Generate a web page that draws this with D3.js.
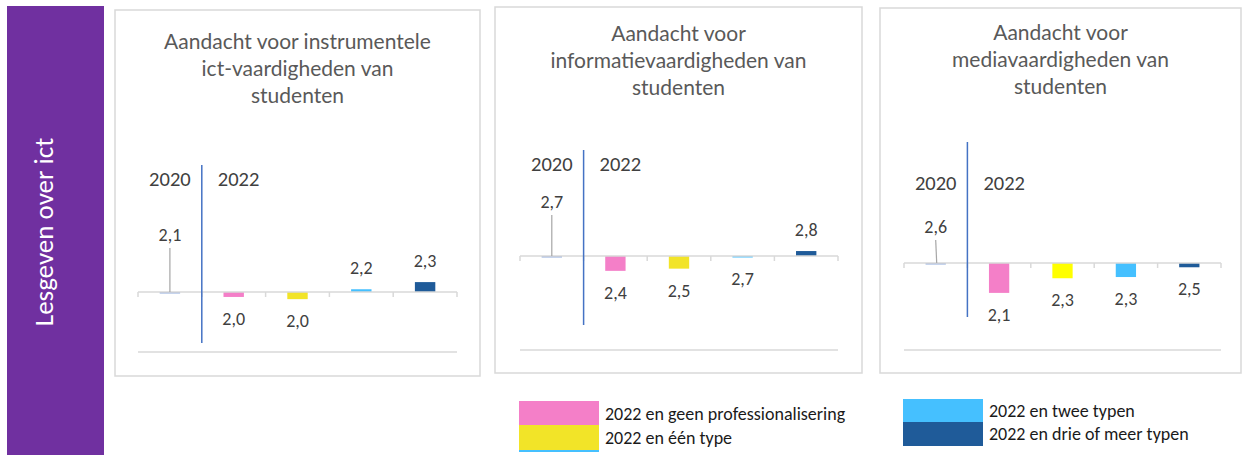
<!DOCTYPE html>
<html lang="nl">
<head>
<meta charset="UTF-8">
<title>Lesgeven over ict</title>
<script src="https://d3js.org/d3.v7.min.js"></script>
<style>
  body { margin: 0; background: #fff; }
  svg { display: block; }
</style>
</head>
<body>
<script>
// categories (2020 reference + four 2022 groups)
const categories = ["2020", "2022 en geen professionalisering", "2022 en één type",
                    "2022 en twee typen", "2022 en drie of meer typen"];
const panelTitles = [
  ["Aandacht voor instrumentele", "ict-vaardigheden van", "studenten"],
  ["Aandacht voor", "informatievaardigheden van", "studenten"],
  ["Aandacht voor", "mediavaardigheden van", "studenten"]
];
// mean scores per category
const instrumentele = [2.12, 2.03, 1.99, 2.17, 2.30];
const informatie    = [2.70, 2.43, 2.47, 2.68, 2.79];
const media         = [2.57, 2.08, 2.32, 2.34, 2.50];
const rowLabel = "Lesgeven over ict";
const yearLabels = ["2020", "2022"];

const colors = ["#8ea9db", "#f47fc8", "#f2e428", "#45c0ff", "#1f5b99"];
const labelFont = "Carlito, 'Liberation Sans Narrow', 'Open Sans', sans-serif";
const titleFont = "Lato, 'Open Sans', sans-serif";

// layout of each chart box (pixels)
const layout = [
  { box: [115, 10, 365, 366], x0: 138, x1: 457, axisY: 292, k: 55, bottomY: 352,
    sepTop: 165, sepBottom: 343, yearY: 186, baseLabelY: 241, leaderTop: 248, titleY: 49, yellow: "#f2e428" },
  { box: [495, 7, 367, 366], x0: 520, x1: 838, axisY: 256, k: 55, bottomY: 350,
    sepTop: 150, sepBottom: 325, yearY: 171, baseLabelY: 208, leaderTop: 215, titleY: 41, yellow: "#f2e428" },
  { box: [880, 8, 361, 365], x0: 904, x1: 1221, axisY: 263, k: 61, bottomY: 350,
    sepTop: 142, sepBottom: 317, yearY: 190, baseLabelY: 233, leaderTop: 240, titleY: 40, yellow: "#ffff00" }
];
const series = [instrumentele, informatie, media];

const width = 1242, height = 455;
const svg = d3.select("body").append("svg")
  .attr("width", width).attr("height", height);

const fmt = d3.formatLocale({ decimal: ",", thousands: ".", grouping: [3], currency: ["€", ""] }).format(".1f");

// purple side band
svg.append("rect").attr("x", 7).attr("y", 6).attr("width", 97).attr("height", 449)
  .attr("fill", "#7030a0");
svg.append("text")
  .attr("transform", "translate(53,232) rotate(-90)")
  .attr("text-anchor", "middle")
  .attr("font-family", labelFont).attr("font-size", 27)
  .attr("fill", "#fff")
  .text(rowLabel);

layout.forEach((L, i) => {
  const values = series[i];
  const base = values[0];
  const g = svg.append("g");

  g.append("rect")
    .attr("x", L.box[0]).attr("y", L.box[1])
    .attr("width", L.box[2]).attr("height", L.box[3])
    .attr("fill", "#fff").attr("stroke", "#d9d9d9").attr("stroke-width", 1.5);

  const cx = L.box[0] + L.box[2] / 2;
  g.append("text")
    .attr("text-anchor", "middle")
    .attr("font-family", titleFont).attr("font-size", 21)
    .attr("fill", "#595959")
    .selectAll("tspan").data(panelTitles[i]).join("tspan")
    .attr("x", cx)
    .attr("y", (d, j) => L.titleY + j * 27)
    .text(d => d);

  const x = d3.scaleBand().domain(categories).range([L.x0, L.x1]).paddingInner(0);
  const y = d3.scaleLinear().domain([base, base + 1]).range([L.axisY, L.axisY - L.k]);
  const bw = x.bandwidth() * 0.32;
  const fill = (d, j) => j === 2 ? L.yellow : colors[j];

  // bottom gridline
  g.append("line")
    .attr("x1", L.x0).attr("x2", L.x1)
    .attr("y1", L.bottomY).attr("y2", L.bottomY)
    .attr("stroke", "#d9d9d9").attr("stroke-width", 1.5);

  // bars (relative to the 2020 score)
  g.selectAll("rect.bar").data(values).join("rect")
    .attr("class", "bar")
    .attr("x", (d, j) => x(categories[j]) + (x.bandwidth() - bw) / 2)
    .attr("y", d => Math.min(y(d), y(base)))
    .attr("width", bw)
    .attr("height", d => Math.max(Math.abs(y(d) - y(base)), 1.5))
    .attr("fill", fill);

  // category axis with ticks between categories
  g.append("line")
    .attr("x1", L.x0).attr("x2", L.x1)
    .attr("y1", L.axisY).attr("y2", L.axisY)
    .attr("stroke", "#d9d9d9").attr("stroke-width", 1.5);
  const tickXs = categories.map(c => x(c)).concat([L.x1]);
  g.selectAll("line.tick").data(tickXs).join("line")
    .attr("class", "tick")
    .attr("x1", d => d).attr("x2", d => d)
    .attr("y1", L.axisY).attr("y2", L.axisY + 5)
    .attr("stroke", "#d9d9d9").attr("stroke-width", 1.5);

  // value labels for 2022 groups
  g.selectAll("text.val").data(values.slice(1)).join("text")
    .attr("class", "val")
    .attr("x", (d, j) => x(categories[j + 1]) + x.bandwidth() / 2)
    .attr("y", d => d >= base ? y(d) - 15 : y(d) + 28)
    .attr("text-anchor", "middle")
    .attr("font-family", labelFont).attr("font-size", 18)
    .attr("fill", "#404040")
    .text(d => fmt(d));

  // 2020 label with leader line
  const c0 = x(categories[0]) + x.bandwidth() / 2;
  g.append("line")
    .attr("x1", c0).attr("x2", c0 + (i === 2 ? 1 : 0))
    .attr("y1", L.leaderTop).attr("y2", L.axisY)
    .attr("stroke", "#a6a6a6").attr("stroke-width", 1.2);
  g.append("text")
    .attr("x", c0).attr("y", L.baseLabelY)
    .attr("text-anchor", "middle")
    .attr("font-family", labelFont).attr("font-size", 18)
    .attr("fill", "#404040")
    .text(fmt(base));

  // 2020 | 2022 separator
  const sx = x(categories[1]);
  g.append("line")
    .attr("x1", sx).attr("x2", sx)
    .attr("y1", L.sepTop).attr("y2", L.sepBottom)
    .attr("stroke", "#4472c4").attr("stroke-width", 1.5);
  g.append("text")
    .attr("x", c0).attr("y", L.yearY)
    .attr("text-anchor", "middle")
    .attr("font-family", labelFont).attr("font-size", 20.5)
    .attr("fill", "#404040")
    .text(yearLabels[0]);
  g.append("text")
    .attr("x", sx + 16).attr("y", L.yearY)
    .attr("font-family", labelFont).attr("font-size", 20.5)
    .attr("fill", "#404040")
    .text(yearLabels[1]);
});

// legend
const legendItems = [
  { name: categories[1], color: colors[1], x: 519, y: 401, h: 24, ty: 420 },
  { name: categories[2], color: colors[2], x: 519, y: 425, h: 25, ty: 444 },
  { name: categories[3], color: colors[3], x: 903, y: 399, h: 23, ty: 417 },
  { name: categories[4], color: colors[4], x: 903, y: 422, h: 24, ty: 440 }
];
svg.append("rect").attr("x", 519).attr("y", 450).attr("width", 80).attr("height", 2)
  .attr("fill", colors[3]);
const lg = svg.append("g").selectAll("g").data(legendItems).join("g");
lg.append("rect")
  .attr("x", d => d.x).attr("y", d => d.y)
  .attr("width", 80).attr("height", d => d.h)
  .attr("fill", d => d.color);
lg.append("text")
  .attr("x", d => d.x + 86).attr("y", d => d.ty)
  .attr("font-family", labelFont).attr("font-size", 18)
  .attr("fill", "#1a1a1a")
  .text(d => d.name);
</script>
</body>
</html>
